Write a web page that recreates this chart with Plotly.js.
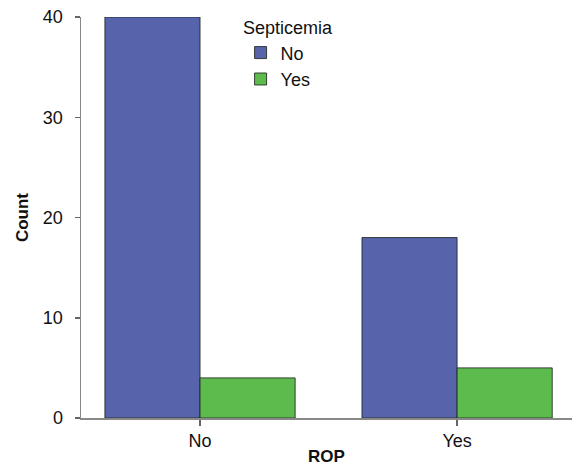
<!DOCTYPE html>
<html><head><meta charset="utf-8">
<script src="https://cdn.plot.ly/plotly-3.0.1.min.js"></script>
<style>html,body{margin:0;padding:0;background:#fff}</style>
</head><body>
<div id="chart" style="width:572px;height:466px"></div>
<script>
const categories = ["No", "Yes"];
const seriesNames = ["No", "Yes"];
const countsSeptNo = [40, 18];
const countsSeptYes = [4, 5];
const yTicks = [0, 10, 20, 30, 40];

const lineStyle = {color: "rgba(30,40,30,0.85)", width: 1};
const traces = [
  {type: "bar", name: seriesNames[0], x: categories, y: countsSeptNo,
   marker: {color: "#5763ab", line: lineStyle}, hoverinfo: "none"},
  {type: "bar", name: seriesNames[1], x: categories, y: countsSeptYes,
   marker: {color: "#5dbb4e", line: lineStyle}, hoverinfo: "none"}
];

const layout = {
  width: 572, height: 466,
  margin: {l: 81, r: 0, t: 17, b: 48},
  paper_bgcolor: "#fff", plot_bgcolor: "#fff",
  font: {family: "Liberation Sans, Arial, sans-serif", size: 18, color: "#111"},
  barmode: "group", bargap: 0.26, bargroupgap: 0,
  showlegend: true,
  legend: {
    title: {text: "Septicemia", side: "top center", font: {size: 18}},
    x: 0.325, y: 1.015, xanchor: "left", yanchor: "top",
    bgcolor: "rgba(0,0,0,0)", font: {size: 18},
    itemwidth: 30, tracegroupgap: 0
  },
  xaxis: {
    type: "category", range: [-0.463, 1.447],
    showline: true, linecolor: "#888", linewidth: 1.5,
    ticks: "outside", ticklen: 6, tickcolor: "#666", tickwidth: 1.5,
    showgrid: false, zeroline: false,
    tickfont: {size: 18},
    title: {text: "ROP", font: {size: 17, weight: "bold"}, standoff: 4}
  },
  yaxis: {
    range: [0, 40], tickvals: yTicks,
    showline: true, linecolor: "#888", linewidth: 1.5,
    ticks: "outside", ticklen: 5, tickcolor: "#666", tickwidth: 1.5,
    ticklabelstandoff: 8,
    showgrid: false, zeroline: false,
    tickfont: {size: 18},
    title: {text: "Count", font: {size: 17, weight: "bold"}, standoff: 10}
  }
};

Plotly.newPlot("chart", traces, layout, {displayModeBar: false, staticPlot: true});
</script>
</body></html>
